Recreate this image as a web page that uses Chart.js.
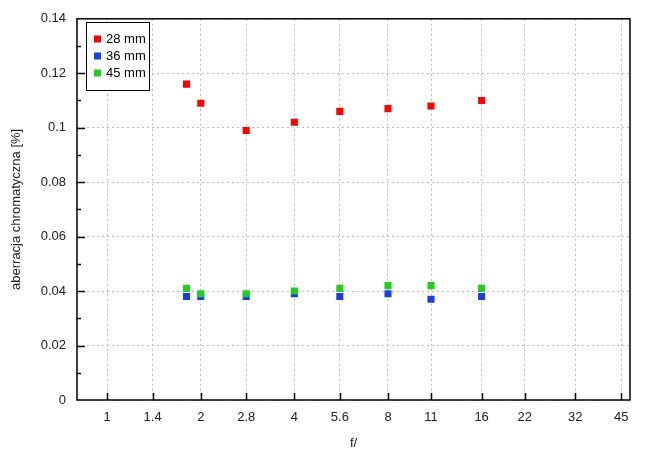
<!DOCTYPE html>
<html>
<head>
<meta charset="utf-8">
<script src="https://cdn.jsdelivr.net/npm/chart.js@4/dist/chart.umd.min.js"></script>
<style>
  html, body { margin: 0; padding: 0; background: #fff; }
  #wrap { width: 655px; height: 455px; }
</style>
</head>
<body>
<div id="wrap"><canvas id="chart" width="655" height="455"></canvas></div>
<script>
// f-stops measured, and the tick labels on the x axis
const apertures = [1.8, 2, 2.8, 4, 5.6, 8, 11, 16];
const xTicks = [1, 1.4, 2, 2.8, 4, 5.6, 8, 11, 16, 22, 32, 45];
const yTicks = [0, 0.02, 0.04, 0.06, 0.08, 0.1, 0.12, 0.14];

const ca28 = [0.116, 0.109, 0.099, 0.102, 0.106, 0.107, 0.108, 0.110];
const ca36 = [0.038, 0.038, 0.038, 0.039, 0.038, 0.039, 0.037, 0.038];
const ca45 = [0.041, 0.039, 0.039, 0.040, 0.041, 0.042, 0.042, 0.041];

const labels = ['28 mm', '36 mm', '45 mm'];
const colors = ['#ff0000', '#1a3fe0', '#22cc22'];

const toPts = arr => arr.map((v, i) => ({ x: apertures[i], y: v }));

const FONT = 'Liberation Sans, Arial, sans-serif';
Chart.defaults.font.family = FONT;
Chart.defaults.font.size = 13;
Chart.defaults.color = '#222';

// gnuplot-ish frame, inward ticks and boxed legend
const framePlugin = {
  id: 'frame',
  afterDraw(chart) {
    const { ctx, chartArea: a, scales } = chart;
    ctx.save();
    ctx.strokeStyle = '#000';
    ctx.lineWidth = 1.5;
    ctx.beginPath();
    // x ticks
    xTicks.forEach(v => {
      const px = Math.round(scales.x.getPixelForValue(v)) + 0.5;
      ctx.moveTo(px, a.bottom);
      ctx.lineTo(px, a.bottom - 7);
    });
    // y ticks, major + minor
    for (let k = 1; k < 14; k++) {
      const v = k * 0.01;
      const py = Math.round(scales.y.getPixelForValue(v)) + 0.5;
      ctx.moveTo(a.left, py);
      ctx.lineTo(a.left + (k % 2 ? 4 : 8), py);
    }
    ctx.stroke();
    ctx.strokeRect(a.left, a.top, a.right - a.left, a.bottom - a.top);

    // legend
    const bx = 86, by = 22, bw = 63, bh = 68;
    ctx.fillStyle = '#fff';
    ctx.fillRect(bx, by, bw, bh);
    ctx.lineWidth = 1;
    ctx.strokeRect(bx + 0.5, by + 0.5, bw, bh);
    ctx.font = '13px ' + FONT;
    ctx.textBaseline = 'middle';
    labels.forEach((lab, i) => {
      const cy = 39 + i * 17;
      ctx.fillStyle = colors[i];
      ctx.fillRect(94, cy - 3.5, 7, 7);
      ctx.fillStyle = '#000';
      ctx.fillText(lab, 106, cy + 0.5);
    });
    ctx.restore();
  }
};

new Chart(document.getElementById('chart'), {
  type: 'scatter',
  data: {
    datasets: [
      { label: labels[0], data: toPts(ca28), backgroundColor: colors[0], order: 2 },
      { label: labels[1], data: toPts(ca36), backgroundColor: colors[1], order: 1 },
      { label: labels[2], data: toPts(ca45), backgroundColor: colors[2], order: 0 }
    ]
  },
  options: {
    responsive: false,
    animation: false,
    layout: { padding: { top: 17, right: 25, left: 0, bottom: 0 } },
    elements: {
      point: { pointStyle: 'rect', radius: 5, borderWidth: 0, hoverRadius: 5 }
    },
    plugins: {
      legend: { display: false },
      tooltip: { enabled: false }
    },
    scales: {
      x: {
        type: 'logarithmic',
        min: 0.8,
        max: 48,
        afterBuildTicks: s => { s.ticks = xTicks.map(v => ({ value: v })); },
        afterFit: s => { s.height = 55; },
        ticks: {
          autoSkip: false,
          maxRotation: 0,
          padding: 10,
          color: '#222',
          callback: v => String(v)
        },
        grid: { color: '#bbb', lineWidth: 1, tickLength: 0, drawTicks: false },
        border: { display: false, dash: [2, 3] },
        title: { display: true, text: 'f/', color: '#222', padding: { top: 7 } }
      },
      y: {
        min: 0,
        max: 0.14,
        afterBuildTicks: s => { s.ticks = yTicks.map(v => ({ value: v })); },
        afterFit: s => { s.width = 77; },
        ticks: {
          padding: 11,
          color: '#222',
          callback: v => String(Number(v.toFixed(2)))
        },
        grid: { color: '#bbb', lineWidth: 1, drawTicks: false },
        border: { display: false, dash: [2, 3] },
        title: { display: true, text: 'aberracja chromatyczna [%]', color: '#222', padding: { bottom: 0, top: 9 } }
      }
    }
  },
  plugins: [framePlugin]
});
</script>
</body>
</html>
